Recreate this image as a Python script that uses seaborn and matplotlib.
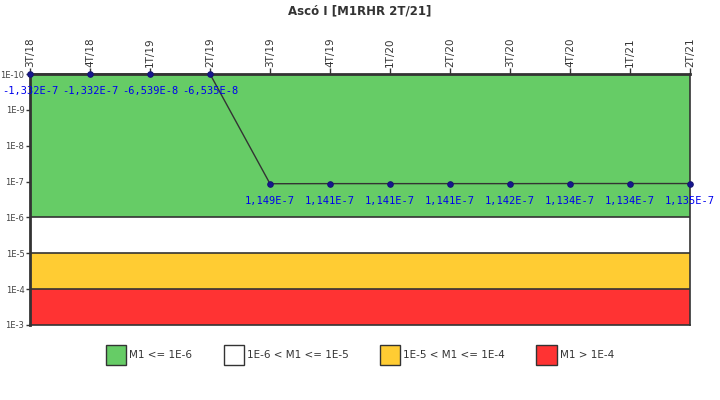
import numpy as np
import pandas as pd
import matplotlib
matplotlib.use("Agg")
import matplotlib.pyplot as plt
from matplotlib.patches import Patch
import seaborn as sns

# data
quarters = ["3T/18", "4T/18", "1T/19", "2T/19", "3T/19", "4T/19",
            "1T/20", "2T/20", "3T/20", "4T/20", "1T/21", "2T/21"]
values = [-1.332e-7, -1.332e-7, -6.539e-8, -6.535e-8, 1.149e-7, 1.141e-7,
          1.141e-7, 1.141e-7, 1.142e-7, 1.134e-7, 1.134e-7, 1.135e-7]
labels = ["-1,332E-7", "-1,332E-7", "-6,539E-8", "-6,535E-8", "1,149E-7", "1,141E-7",
          "1,141E-7", "1,141E-7", "1,142E-7", "1,134E-7", "1,134E-7", "1,135E-7"]

band_edges = [1e-10, 1e-6, 1e-5, 1e-4, 1e-3]
band_colors = ["#66cc66", "#ffffff", "#ffcc33", "#ff3333"]
band_names = ["M1 <= 1E-6", "1E-6 < M1 <= 1E-5", "1E-5 < M1 <= 1E-4", "M1 > 1E-4"]
ytick_vals = [1e-10, 1e-9, 1e-8, 1e-7, 1e-6, 1e-5, 1e-4, 1e-3]
ytick_labels = ["1E-10", "1E-9", "1E-8", "1E-7", "1E-6", "1E-5", "1E-4", "1E-3"]

ymin, ymax = band_edges[0], band_edges[-1]
df = pd.DataFrame({"x": np.arange(len(quarters)),
                   "y": np.clip(values, ymin, ymax)})

sns.set_style("white")
fig = plt.figure(figsize=(7.2, 4.0), dpi=100)
ax = fig.add_axes([30 / 720, 1 - 325 / 400, 660 / 720, 251 / 400])

# coloured bands
for lo, hi, c in zip(band_edges[:-1], band_edges[1:], band_colors):
    ax.axhspan(lo, hi, color=c, zorder=0, lw=0)
for e in band_edges[1:-1]:
    ax.axhline(e, color="#333333", lw=1.2, zorder=1)

sns.lineplot(data=df, x="x", y="y", ax=ax, color="#333333", lw=1,
             marker="o", markersize=4, markerfacecolor="#161690",
             markeredgecolor="#161670", zorder=3, clip_on=False)

ax.set_yscale("log")
ax.set_ylim(ymax, ymin)
ax.set_xlim(0, len(quarters) - 1)

for xi, yi, t in zip(df["x"], df["y"], labels):
    ax.annotate(t, (xi, yi), xytext=(0, -12.5), textcoords="offset points",
                ha="center", va="center", color="#0000ee", fontsize=7.5,
                family="DejaVu Sans Mono", zorder=4, annotation_clip=False)

ax.xaxis.tick_top()
ax.set_xticks(df["x"])
ax.set_xticklabels(quarters, rotation=90, fontsize=7.5, color="#333333")
ax.set_yticks(ytick_vals)
ax.set_yticklabels(ytick_labels, fontsize=6, color="#444444")
ax.yaxis.set_minor_locator(matplotlib.ticker.NullLocator())
ax.tick_params(axis="x", which="major", top=True, bottom=False, length=4,
               width=1, color="#333333", pad=1)
ax.tick_params(axis="y", which="major", left=True, length=3, width=1,
               color="#333333", pad=1)
ax.set_xlabel("")
ax.set_ylabel("")

for side in ["left", "top"]:
    ax.spines[side].set_linewidth(2)
    ax.spines[side].set_color("#333333")
for side in ["right", "bottom"]:
    ax.spines[side].set_linewidth(1.2)
    ax.spines[side].set_color("#333333")
    ax.spines[side].set_visible(True)

fig.text(0.5, 1 - 11 / 400, "Ascó I [M1RHR 2T/21]", ha="center", va="center",
         fontsize=8.5, fontweight="bold", color="#333333")

handles = [Patch(facecolor=c, edgecolor="#333333", lw=1) for c in band_colors]
fig.legend(handles, band_names, loc="center", bbox_to_anchor=(0.5, 1 - 355 / 400),
           ncol=4, frameon=False, fontsize=7.5, handlelength=1.95, handleheight=2.6,
           handletextpad=0.3, columnspacing=3.0, labelcolor="#333333")

fig.savefig("out.png", dpi=100)
